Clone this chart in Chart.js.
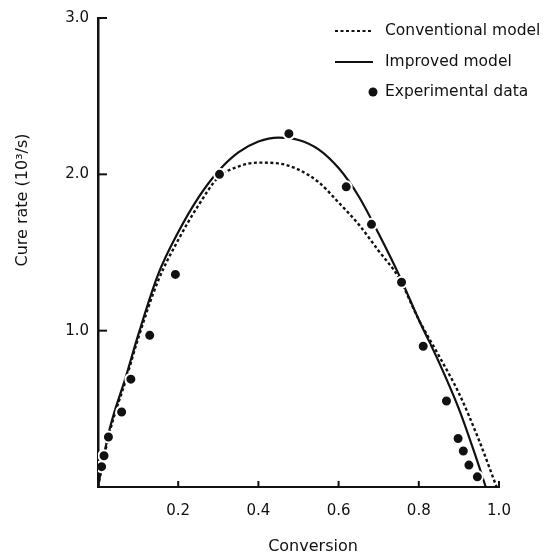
<!DOCTYPE html>
<html>
<head>
<meta charset="utf-8">
<script src="https://cdn.jsdelivr.net/npm/chart.js@4.4.1/dist/chart.umd.min.js"></script>
<style>
  html, body { margin: 0; padding: 0; background: #fff; }
  #wrap { width: 550px; height: 558px; }
</style>
</head>
<body>
<div id="wrap"><canvas id="cureChart" width="550" height="558"></canvas></div>
<script>
// conventional model (dotted)
const convConversion = [0, 0.01, 0.03, 0.07, 0.1, 0.15, 0.2, 0.25, 0.3, 0.35, 0.4, 0.45, 0.5, 0.55, 0.6, 0.65, 0.7, 0.75, 0.8, 0.85, 0.9, 0.95, 0.994];
const convRate = [0, 0.13, 0.36, 0.69, 0.95, 1.32, 1.58, 1.80, 1.98, 2.05, 2.075, 2.07, 2.03, 1.95, 1.82, 1.68, 1.51, 1.34, 1.07, 0.84, 0.60, 0.30, 0];

// improved model (solid)
const impConversion = [0, 0.01, 0.03, 0.07, 0.1, 0.15, 0.2, 0.25, 0.3, 0.35, 0.4, 0.45, 0.5, 0.55, 0.6, 0.65, 0.7, 0.75, 0.8, 0.85, 0.9, 0.94, 0.967];
const impRate = [0, 0.14, 0.38, 0.71, 0.97, 1.36, 1.63, 1.85, 2.02, 2.14, 2.21, 2.235, 2.22, 2.16, 2.04, 1.86, 1.62, 1.36, 1.07, 0.80, 0.50, 0.21, 0];

// experimental data
const expConversion = [0.009, 0.015, 0.026, 0.059, 0.082, 0.129, 0.193, 0.303, 0.476, 0.619, 0.682, 0.757, 0.811, 0.869, 0.898, 0.911, 0.925, 0.946];
const expRate = [0.13, 0.20, 0.32, 0.48, 0.69, 0.97, 1.36, 2.00, 2.26, 1.92, 1.68, 1.31, 0.90, 0.55, 0.31, 0.23, 0.14, 0.065];

const xTicks = [0.2, 0.4, 0.6, 0.8, 1.0];
const yTicks = [1.0, 2.0, 3.0];
const legendLabels = ['Conventional model', 'Improved model', 'Experimental data'];
const xTitle = 'Conversion';
const yTitle = 'Cure rate (10³/s)';

const ink = '#111';
const font = '"DejaVu Sans", sans-serif';

function toPoints(xs, ys) {
    return xs.map((x, i) => ({ x: x, y: ys[i] }));
}

// inward tick marks, axis titles (not centred in the original) and the legend
const paperPlugin = {
    id: 'paper',
    afterDraw(chart) {
        const ctx = chart.ctx;
        const area = chart.chartArea;
        const xs = chart.scales.x, ys = chart.scales.y;
        ctx.save();
        ctx.strokeStyle = ink;
        ctx.lineWidth = 2;
        xTicks.forEach(v => {
            const px = xs.getPixelForValue(v);
            ctx.beginPath();
            ctx.moveTo(px, area.bottom);
            ctx.lineTo(px, area.bottom - 6);
            ctx.stroke();
        });
        yTicks.forEach(v => {
            const py = ys.getPixelForValue(v);
            ctx.beginPath();
            ctx.moveTo(area.left, py);
            ctx.lineTo(area.left + 9, py);
            ctx.stroke();
        });

        ctx.fillStyle = ink;
        ctx.font = '16px ' + font;
        ctx.textAlign = 'center';
        ctx.textBaseline = 'middle';
        ctx.fillText(xTitle, 313, 547);
        ctx.save();
        ctx.translate(23, 200);
        ctx.rotate(-Math.PI / 2);
        ctx.fillText(yTitle, 0, 0);
        ctx.restore();

        // legend
        const lx = 335, tx = 385;
        const rows = [31, 62, 92];
        ctx.lineWidth = 2;
        ctx.setLineDash([3, 2.5]);
        ctx.beginPath();
        ctx.moveTo(lx, rows[0]);
        ctx.lineTo(lx + 38, rows[0]);
        ctx.stroke();
        ctx.setLineDash([]);
        ctx.beginPath();
        ctx.moveTo(lx, rows[1]);
        ctx.lineTo(lx + 38, rows[1]);
        ctx.stroke();
        ctx.beginPath();
        ctx.arc(373, rows[2], 4.5, 0, Math.PI * 2);
        ctx.fill();

        ctx.font = '15.5px ' + font;
        ctx.textAlign = 'left';
        legendLabels.forEach((t, i) => ctx.fillText(t, tx, rows[i]));
        ctx.restore();
    }
};

const ctx = document.getElementById('cureChart').getContext('2d');
const cureChart = new Chart(ctx, {
    type: 'scatter',
    data: {
        datasets: [
            {
                label: legendLabels[0],
                data: toPoints(convConversion, convRate),
                showLine: true,
                borderColor: ink,
                borderWidth: 2.4,
                borderDash: [3, 2.5],
                pointRadius: 0,
                cubicInterpolationMode: 'monotone',
                order: 2
            },
            {
                label: legendLabels[1],
                data: toPoints(impConversion, impRate),
                showLine: true,
                borderColor: ink,
                borderWidth: 2.2,
                pointRadius: 0,
                cubicInterpolationMode: 'monotone',
                order: 1
            },
            {
                label: legendLabels[2],
                data: toPoints(expConversion, expRate),
                backgroundColor: ink,
                borderColor: '#fff',
                borderWidth: 2,
                pointRadius: 5.5,
                order: 0
            }
        ]
    },
    options: {
        responsive: false,
        animation: false,
        layout: { padding: { top: 13, right: 51, bottom: 0, left: 0 } },
        plugins: {
            legend: { display: false },
            tooltip: { enabled: false }
        },
        scales: {
            x: {
                type: 'linear',
                min: 0,
                max: 1.0,
                grid: { display: false, tickLength: 0 },
                border: { display: true, color: ink, width: 2 },
                afterBuildTicks: scale => { scale.ticks = xTicks.map(v => ({ value: v })); },
                afterFit: scale => { scale.height = 71; },
                ticks: {
                    color: ink,
                    padding: 15,
                    maxRotation: 0,
                    font: { family: font, size: 15 },
                    callback: v => v.toFixed(1)
                }
            },
            y: {
                type: 'linear',
                min: 0,
                max: 3.0,
                grid: { display: false, tickLength: 0 },
                border: { display: true, color: ink, width: 2.5 },
                afterBuildTicks: scale => { scale.ticks = yTicks.map(v => ({ value: v })); },
                afterFit: scale => { scale.width = 98; },
                ticks: {
                    color: ink,
                    padding: 9,
                    font: { family: font, size: 15 },
                    callback: v => v.toFixed(1)
                }
            }
        }
    },
    plugins: [paperPlugin]
});
</script>
</body>
</html>
